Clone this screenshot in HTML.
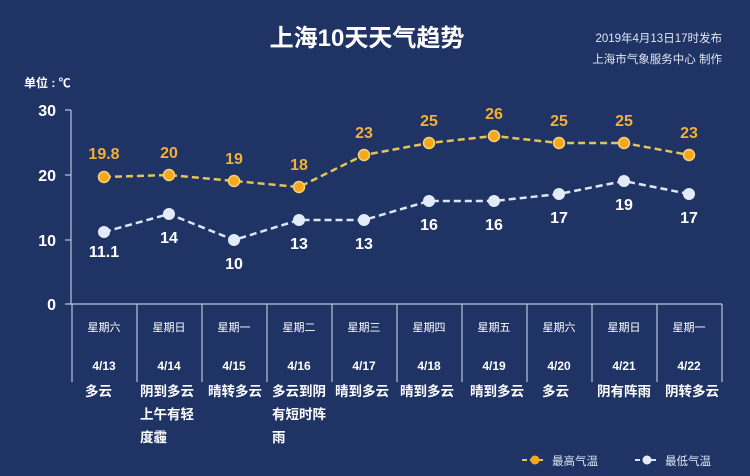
<!DOCTYPE html>
<html><head><meta charset="utf-8"><style>
html,body{margin:0;padding:0;background:#1f3465;}
svg{display:block;}
text{font-family:"Liberation Sans","Noto Sans CJK SC",sans-serif;}
</style></head><body>
<svg width="750" height="476" viewBox="0 0 750 476" xmlns="http://www.w3.org/2000/svg">
<rect width="750" height="476" fill="#1f3465"/>
<text x="367" y="46" fill="#fff" font-size="24" font-weight="bold" text-anchor="middle">上海10天天气趋势</text>
<text x="722" y="42" fill="#dfe6f2" font-size="11.5" text-anchor="end">2019年4月13日17时发布</text>
<text x="722" y="63" fill="#dfe6f2" font-size="11.5" text-anchor="end">上海市气象服务中心  制作</text>
<text x="24" y="87" fill="#fff" font-size="12" font-weight="bold">单位 : ℃</text>
<g fill="#fff" font-size="16" font-weight="bold" text-anchor="end">
<text x="56" y="116">30</text><text x="56" y="181">20</text><text x="56" y="246">10</text><text x="56" y="310">0</text>
</g>
<g stroke="#b8c6dd" stroke-width="1.2" fill="none">
<line x1="71" y1="110" x2="71" y2="304"/>
<line x1="65" y1="110" x2="71" y2="110"/><line x1="65" y1="175" x2="71" y2="175"/><line x1="65" y1="240" x2="71" y2="240"/>
<line x1="65" y1="304" x2="722" y2="304"/>
<line x1="72" y1="304" x2="72" y2="382"/><line x1="137" y1="304" x2="137" y2="382"/><line x1="202" y1="304" x2="202" y2="382"/><line x1="267" y1="304" x2="267" y2="382"/><line x1="332" y1="304" x2="332" y2="382"/><line x1="397" y1="304" x2="397" y2="382"/><line x1="462" y1="304" x2="462" y2="382"/><line x1="527" y1="304" x2="527" y2="382"/><line x1="592" y1="304" x2="592" y2="382"/><line x1="657" y1="304" x2="657" y2="382"/><line x1="722" y1="304" x2="722" y2="382"/>
</g>
<g fill="#fff" font-size="11" text-anchor="middle">
<text x="104" y="331">星期六</text><text x="169" y="331">星期日</text><text x="234" y="331">星期一</text><text x="299" y="331">星期二</text><text x="364" y="331">星期三</text><text x="429" y="331">星期四</text><text x="494" y="331">星期五</text><text x="559" y="331">星期六</text><text x="624" y="331">星期日</text><text x="689" y="331">星期一</text>
</g>
<g fill="#fff" font-size="12" font-weight="bold" text-anchor="middle">
<text x="104" y="370">4/13</text><text x="169" y="370">4/14</text><text x="234" y="370">4/15</text><text x="299" y="370">4/16</text><text x="364" y="370">4/17</text><text x="429" y="370">4/18</text><text x="494" y="370">4/19</text><text x="559" y="370">4/20</text><text x="624" y="370">4/21</text><text x="689" y="370">4/22</text>
</g>
<g fill="#fff" font-size="13.5" font-weight="bold">
<text x="85" y="396">多云</text>
<text x="140" y="396">阴到多云</text><text x="140" y="419">上午有轻</text><text x="140" y="442">度霾</text>
<text x="208" y="396">晴转多云</text>
<text x="272" y="396">多云到阴</text><text x="272" y="419">有短时阵</text><text x="272" y="442">雨</text>
<text x="335" y="396">晴到多云</text>
<text x="400" y="396">晴到多云</text>
<text x="470" y="396">晴到多云</text>
<text x="542" y="396">多云</text>
<text x="597" y="396">阴有阵雨</text>
<text x="665" y="396">阴转多云</text>
</g>
<polyline points="104,177 169,175 234,181 299,187 364,155 429,143 494,136 559,143 624,143 689,155" fill="none" stroke="#e6c25a" stroke-width="2.5" stroke-dasharray="7,4"/>
<polyline points="104,232 169,214 234,240 299,220 364,220 429,201 494,201 559,194 624,181 689,194" fill="none" stroke="#dce6f4" stroke-width="2.5" stroke-dasharray="7,4"/>
<g fill="#f5a81a" stroke="#f7d27a" stroke-width="1.5">
<circle cx="104" cy="177" r="5.5"/><circle cx="169" cy="175" r="5.5"/><circle cx="234" cy="181" r="5.5"/><circle cx="299" cy="187" r="5.5"/><circle cx="364" cy="155" r="5.5"/><circle cx="429" cy="143" r="5.5"/><circle cx="494" cy="136" r="5.5"/><circle cx="559" cy="143" r="5.5"/><circle cx="624" cy="143" r="5.5"/><circle cx="689" cy="155" r="5.5"/>
</g>
<g fill="#e2ecf8">
<circle cx="104" cy="232" r="6"/><circle cx="169" cy="214" r="6"/><circle cx="234" cy="240" r="6"/><circle cx="299" cy="220" r="6"/><circle cx="364" cy="220" r="6"/><circle cx="429" cy="201" r="6"/><circle cx="494" cy="201" r="6"/><circle cx="559" cy="194" r="6"/><circle cx="624" cy="181" r="6"/><circle cx="689" cy="194" r="6"/>
</g>
<g fill="#f2b036" font-size="16" font-weight="bold" text-anchor="middle">
<text x="104" y="159">19.8</text><text x="169" y="158">20</text><text x="234" y="164">19</text><text x="299" y="170">18</text><text x="364" y="138">23</text><text x="429" y="126">25</text><text x="494" y="119">26</text><text x="559" y="126">25</text><text x="624" y="126">25</text><text x="689" y="138">23</text>
</g>
<g fill="#fff" font-size="16" font-weight="bold" text-anchor="middle">
<text x="104" y="257">11.1</text><text x="169" y="243">14</text><text x="234" y="269">10</text><text x="299" y="249">13</text><text x="364" y="249">13</text><text x="429" y="230">16</text><text x="494" y="230">16</text><text x="559" y="223">17</text><text x="624" y="210">19</text><text x="689" y="223">17</text>
</g>
<line x1="522" y1="460" x2="545" y2="460" stroke="#e6c25a" stroke-width="2" stroke-dasharray="5,3"/>
<circle cx="535" cy="460" r="4.5" fill="#f5a81a"/>
<text x="552" y="465" fill="#dfe6f2" font-size="11.5">最高气温</text>
<line x1="635" y1="460" x2="658" y2="460" stroke="#dce6f4" stroke-width="2" stroke-dasharray="5,3"/>
<circle cx="647" cy="460" r="4.5" fill="#e2ecf8"/>
<text x="665" y="465" fill="#dfe6f2" font-size="11.5">最低气温</text>
</svg>
</body></html>
